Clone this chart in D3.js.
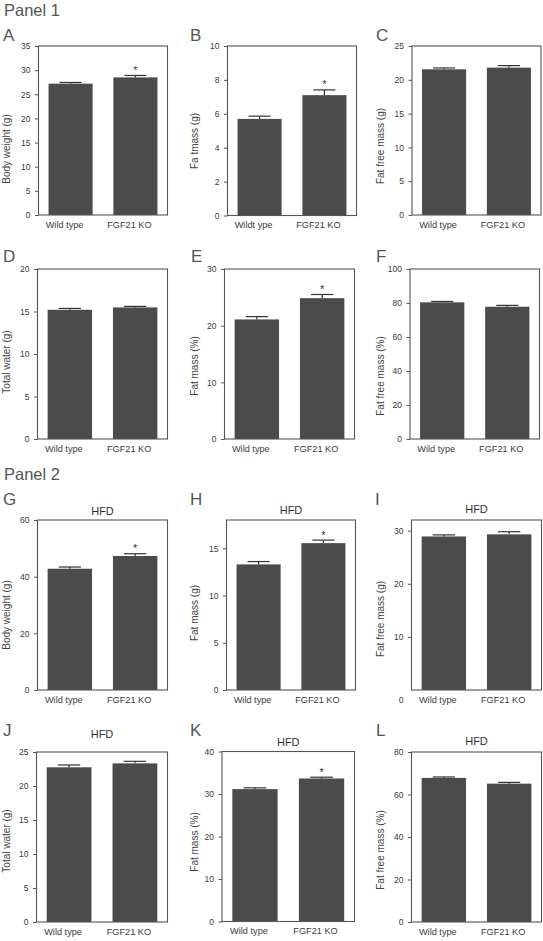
<!DOCTYPE html>
<html><head><meta charset="utf-8">
<script src="https://cdn.jsdelivr.net/npm/d3@7"></script>
<style>
html,body{margin:0;padding:0;background:#fff;}
svg{display:block;font-family:"Liberation Sans",Arial,sans-serif;}
</style></head>
<body>
<svg id="chart" width="543" height="941"></svg>
<script>
// ---------- DATA ----------
const panelLetters = ["A","B","C","D","E","F","G","H","I","J","K","L"];
const groupTitles = ["Panel 1","Panel 2"];
const categories = ["Wild type","FGF21 KO"];
const categoriesB = ["Wildt ype","FGF21 KO"];
const yLabels = ["Body weight (g)","Fa tmass (g)","Fat free mass (g)","Total water (g)","Fat mass (%)","Fat free mass (%)",
                 "Body weight (g)","Fat mass (g)","Fat free mass (g)","Total water (g)","Fat mass (%)","Fat free mass (%)"];
const subtitles = ["","","","","","","HFD","HFD","HFD","HFD","HFD","HFD"];
const yMax = [35,10,25,20,30,100,60,18,32,25,40,80];
const yTicks = [[0,5,10,15,20,25,30,35],[0,2,4,6,8,10],[0,5,10,15,20,25],[0,5,10,15,20],[0,10,20,30],[0,20,40,60,80,100],
                [0,20,40,60],[0,5,10,15],[0,10,20,30],[0,5,10,15,20,25],[0,10,20,30,40],[0,20,40,60,80]];
const wildTypeMean = [27.2,5.7,21.55,15.2,21.1,80.4,42.8,13.3,28.9,22.75,31.15,67.8];
const wildTypeSEM  = [0.25,0.16,0.2,0.16,0.5,0.5,0.6,0.3,0.3,0.34,0.3,0.45];
const koMean       = [28.5,7.1,21.8,15.48,24.85,77.8,47.3,15.55,29.3,23.33,33.65,65.1];
const koSEM        = [0.4,0.31,0.3,0.12,0.65,0.8,0.8,0.32,0.5,0.3,0.3,0.6];
const significant  = [true,true,false,false,true,false,true,true,false,false,true,false];

// ---------- LAYOUT (positions only) ----------
// frame: [left, top, right, bottom]; letter: [x, baseline]; ylab: [x center, y center]; sub: y center
const layout = [
  {frame:[38.5,46,167.5,215], letter:[3,41], ylab:[6.5,149]},
  {frame:[227.5,46,356.5,215.5], letter:[190,41], ylab:[194,141]},
  {frame:[412,46,541,215], letter:[376,41], ylab:[380,146]},
  {frame:[37.5,269,167.5,439], letter:[3,262], ylab:[6.5,362]},
  {frame:[224.5,269,354.5,439], letter:[191,262], ylab:[194,366]},
  {frame:[410,269,539.5,439], letter:[376,262], ylab:[380,376]},
  {frame:[37.5,520,167.5,690], letter:[3,505], ylab:[6.5,615], sub:510.5},
  {frame:[226.5,520,355.5,690], letter:[190,505], ylab:[194,613], sub:510},
  {frame:[411.5,520,541.5,690], letter:[375,505], ylab:[380.5,619], sub:509, zeroDrop:true},
  {frame:[36.5,752,167.5,922], letter:[3,736], ylab:[6.5,841], sub:733.5},
  {frame:[222,751.5,354.5,921.5], letter:[190,736], ylab:[194,842], sub:741.5},
  {frame:[411.5,752,541.5,922], letter:[376,736], ylab:[380.5,850], sub:740.5}
];
const groupTitlePos = [[4,15.5],[4,480]];

const barColor = "#4b4b4b";
const inkColor = "#555";
const textColor = "#3a3a3a";

const svg = d3.select("#chart");

groupTitles.forEach((t,i)=>{
  svg.append("text").attr("x",groupTitlePos[i][0]).attr("y",groupTitlePos[i][1])
    .attr("font-size",16.5).attr("fill","#555").text(t);
});

panelLetters.forEach((letter,i)=>{
  const L = layout[i];
  const [x0,y0,x1,y1] = L.frame;
  const g = svg.append("g");
  const cats = i===1 ? categoriesB : categories;
  const x = d3.scaleBand().domain(cats).range([x0,x1]).paddingInner(0.32).paddingOuter(0.155);
  const y = d3.scaleLinear().domain([0,yMax[i]]).range([y1,y0]);

  // letter
  g.append("text").attr("x",L.letter[0]).attr("y",L.letter[1]).attr("font-size",17).attr("fill","#555").text(letter);

  // bars
  const means = [wildTypeMean[i], koMean[i]];
  const sems = [wildTypeSEM[i], koSEM[i]];
  const rows = cats.map((c,k)=>({c, m:means[k], e:sems[k], sig: k===1 && significant[i]}));
  g.selectAll("rect.bar").data(rows).join("rect").attr("class","bar")
    .attr("x",d=>x(d.c)).attr("width",x.bandwidth())
    .attr("y",d=>y(d.m)).attr("height",d=>y(0)-y(d.m)).attr("fill",barColor);

  // error bars
  const capHalf = x.bandwidth()*0.25;
  rows.forEach(d=>{
    const cx = x(d.c)+x.bandwidth()/2;
    g.append("line").attr("x1",cx).attr("x2",cx).attr("y1",y(d.m)).attr("y2",y(d.m+d.e))
      .attr("stroke","#333").attr("stroke-width",1.2);
    g.append("line").attr("x1",cx-capHalf).attr("x2",cx+capHalf).attr("y1",y(d.m+d.e)).attr("y2",y(d.m+d.e))
      .attr("stroke","#333").attr("stroke-width",1.2);
    if(d.sig){
      g.append("text").attr("x",cx).attr("y",y(d.m+d.e)-1.5).attr("text-anchor","middle")
        .attr("font-size",11).attr("fill","#333").text("*");
    }
  });

  // y axis
  const ax = g.append("g").attr("transform",`translate(${x0},0)`)
    .call(d3.axisLeft(y).tickValues(yTicks[i]).tickSize(3.5).tickPadding(4.5).tickFormat(d3.format("d")));
  ax.select(".domain").remove();
  ax.selectAll(".tick line").attr("stroke",inkColor);
  ax.selectAll(".tick text").attr("font-size",8.5).attr("fill",textColor).attr("font-family",null);
  if(L.zeroDrop){
    ax.selectAll(".tick").filter(d=>d===0).select("text").attr("dy","1.45em");
    ax.selectAll(".tick").filter(d=>d===0).select("line").remove();
  }

  // x labels
  const bx = g.append("g").attr("transform",`translate(0,${y1})`)
    .call(d3.axisBottom(x).tickSize(0).tickPadding(6));
  bx.select(".domain").remove();
  bx.selectAll(".tick text").attr("font-size",9.2).attr("fill",textColor).attr("font-family",null).attr("dx",-6);

  // frame
  g.append("rect").attr("x",x0).attr("y",y0).attr("width",x1-x0).attr("height",y1-y0)
    .attr("fill","none").attr("stroke",inkColor).attr("stroke-width",1.1);

  // y label
  g.append("text").attr("transform",`translate(${L.ylab[0]},${L.ylab[1]}) rotate(-90)`)
    .attr("text-anchor","middle").attr("dominant-baseline","central")
    .attr("font-size",10).attr("fill","#444").text(yLabels[i]);

  // subtitle
  if(subtitles[i]){
    g.append("text").attr("x",(x0+x1)/2).attr("y",L.sub).attr("text-anchor","middle")
      .attr("dominant-baseline","central").attr("font-size",11).attr("fill","#333").text(subtitles[i]);
  }
});
</script>
</body></html>
